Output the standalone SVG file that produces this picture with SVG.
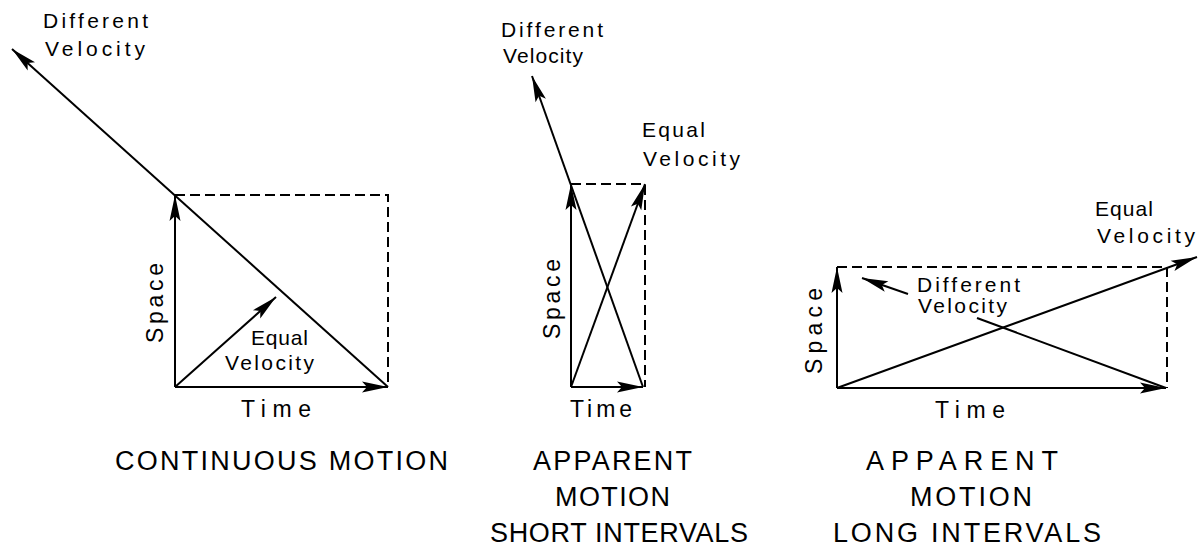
<svg xmlns="http://www.w3.org/2000/svg" width="1198" height="550" viewBox="0 0 1198 550">
<style>
text{font-family:"Liberation Sans",Arial,sans-serif;fill:#000}
.lbl{font-size:21px}
.ax{font-size:23px}
.cap{font-size:27px}
.ln{stroke:#000;stroke-width:2;fill:none}
.dash{stroke:#000;stroke-width:2;fill:none;stroke-dasharray:10 5}
</style>
<defs>
<marker id="ah" viewBox="-28 -6 30 12" refX="0" refY="0" markerWidth="30" markerHeight="12" markerUnits="userSpaceOnUse" orient="auto">
<path d="M0,0 L-26,-5.5 L-21,0 L-26,5.5 Z" fill="#000"/>
</marker>
</defs>
<rect width="1198" height="550" fill="#fff"/>
<g id="connectors">
<path class="dash" d="M175,195 H388 V387"/>
<line class="ln" x1="175" y1="387" x2="175" y2="195" marker-end="url(#ah)"/>
<line class="ln" x1="175" y1="387" x2="388" y2="387" marker-end="url(#ah)"/>
<line class="ln" x1="175" y1="387" x2="276" y2="297" marker-end="url(#ah)"/>
<line class="ln" x1="388" y1="387" x2="12" y2="49" marker-end="url(#ah)"/>
<path class="dash" d="M571,184 H645 V387"/>
<line class="ln" x1="571" y1="387" x2="571" y2="184" marker-end="url(#ah)"/>
<line class="ln" x1="571" y1="387" x2="643" y2="387" marker-end="url(#ah)"/>
<line class="ln" x1="571" y1="387" x2="645" y2="184" marker-end="url(#ah)"/>
<line class="ln" x1="643" y1="387" x2="532" y2="76" marker-end="url(#ah)"/>
<path class="dash" d="M837,267 H1167 V388"/>
<line class="ln" x1="837" y1="388" x2="837" y2="267" marker-end="url(#ah)"/>
<line class="ln" x1="837" y1="388" x2="1166" y2="388" marker-end="url(#ah)"/>
<line class="ln" x1="837" y1="388" x2="1197" y2="257" marker-end="url(#ah)"/>
<line class="ln" x1="1166" y1="388" x2="977" y2="318"/>
<line class="ln" x1="908" y1="294" x2="862" y2="278" marker-end="url(#ah)"/>
</g>
<g id="panel1">
<text class="lbl" x="43" y="28" textLength="105" lengthAdjust="spacing">Different</text>
<text class="lbl" x="45" y="56" textLength="100" lengthAdjust="spacing">Velocity</text>
<text class="lbl" x="251" y="345" textLength="57" lengthAdjust="spacing">Equal</text>
<text class="lbl" x="225" y="370" textLength="89" lengthAdjust="spacing">Velocity</text>
<text class="ax" x="241" y="417" textLength="70" lengthAdjust="spacing">Time</text>
<text class="ax" transform="translate(163,303) rotate(-90)" text-anchor="middle" textLength="80" lengthAdjust="spacing">Space</text>
<text class="cap" x="115" y="470" textLength="333" lengthAdjust="spacing">CONTINUOUS MOTION</text>
</g>
<g id="panel2">
<text class="lbl" x="501" y="37" textLength="102" lengthAdjust="spacing">Different</text>
<text class="lbl" x="503" y="63" textLength="80" lengthAdjust="spacing">Velocity</text>
<text class="lbl" x="642" y="137" textLength="63" lengthAdjust="spacing">Equal</text>
<text class="lbl" x="643" y="166" textLength="97" lengthAdjust="spacing">Velocity</text>
<text class="ax" x="570" y="417" textLength="62" lengthAdjust="spacing">Time</text>
<text class="ax" transform="translate(560,299) rotate(-90)" text-anchor="middle" textLength="80" lengthAdjust="spacing">Space</text>
<text class="cap" x="533" y="470" textLength="159" lengthAdjust="spacing">APPARENT</text>
<text class="cap" x="555" y="506" textLength="115" lengthAdjust="spacing">MOTION</text>
<text class="cap" x="490" y="542" textLength="258" lengthAdjust="spacing">SHORT INTERVALS</text>
</g>
<g id="panel3">
<text class="lbl" x="1095" y="216" textLength="58" lengthAdjust="spacing">Equal</text>
<text class="lbl" x="1097" y="243" textLength="98" lengthAdjust="spacing">Velocity</text>
<text class="lbl" x="917" y="292" textLength="103" lengthAdjust="spacing">Different</text>
<text class="lbl" x="918" y="313" textLength="89" lengthAdjust="spacing">Velocity</text>
<text class="ax" x="935" y="418" textLength="70" lengthAdjust="spacing">Time</text>
<text class="ax" transform="translate(822,331) rotate(-90)" text-anchor="middle" textLength="86" lengthAdjust="spacing">Space</text>
<text class="cap" x="866" y="470" textLength="192" lengthAdjust="spacing">APPARENT</text>
<text class="cap" x="910" y="506" textLength="122" lengthAdjust="spacing">MOTION</text>
<text class="cap" x="833" y="542" textLength="268" lengthAdjust="spacing">LONG INTERVALS</text>
</g>
</svg>
